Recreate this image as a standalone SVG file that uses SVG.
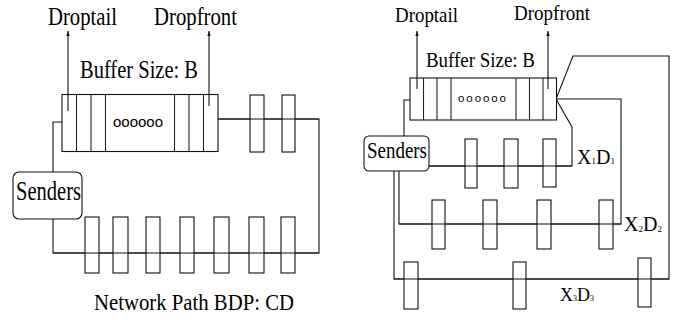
<svg xmlns="http://www.w3.org/2000/svg" width="686" height="320" viewBox="0 0 686 320">
  <style>
    .ln { fill: none; stroke: #111; stroke-width: 1.1; }
    .bx { fill: #fff; stroke: #111; stroke-width: 1.1; }
    .div { stroke: #222; stroke-width: 1.1; }
    .lbl { font-family: "Liberation Serif", "DejaVu Serif", "Times New Roman", serif; fill: #000; }
    .dots { font-family: "Liberation Sans", Arial, sans-serif; fill: #000; }
  </style>
  <defs>
    <marker id="tip" viewBox="0 0 6 6" refX="6" refY="3" markerWidth="5" markerHeight="5" markerUnits="userSpaceOnUse" orient="auto">
      <path d="M0 1 L6 3 L0 5 Z" fill="#111"/>
    </marker>
  </defs>

  <!-- ===== Left: single path ===== -->
  <g id="connectors-left">
    <polyline class="ln" points="62,122 53,122 53,172"/>
    <polyline class="ln" points="53,219 53,253 319,253 319,119 218,119"/>
    <line class="ln" x1="68" y1="111" x2="68" y2="31" marker-end="url(#tip)"/>
    <line class="ln" x1="209" y1="106" x2="209" y2="31" marker-end="url(#tip)"/>
  </g>

  <g id="buffer-left">
    <rect class="bx" x="62" y="94.5" width="156" height="57"/>
    <line class="div" x1="76.5" y1="94.5" x2="76.5" y2="151.5"/>
    <line class="div" x1="91" y1="94.5" x2="91" y2="151.5" stroke="#666"/>
    <line class="div" x1="105.5" y1="94.5" x2="105.5" y2="151.5"/>
    <line class="div" x1="174.5" y1="94.5" x2="174.5" y2="151.5"/>
    <line class="div" x1="189" y1="94.5" x2="189" y2="151.5" stroke="#666"/>
    <line class="div" x1="203.5" y1="94.5" x2="203.5" y2="151.5"/>
    <text class="dots" x="113" y="127" font-size="15" textLength="50" lengthAdjust="spacingAndGlyphs">oooooo</text>
    <line class="ln" x1="68" y1="111" x2="68" y2="95"/>
    <line class="ln" x1="209" y1="106" x2="209" y2="95"/>
  </g>

  <g id="link-left-top">
    <rect class="bx" x="250" y="95" width="14" height="57"/>
    <rect class="bx" x="282" y="95" width="13" height="57"/>
    <line class="ln" x1="218" y1="119" x2="319" y2="119"/>
  </g>

  <g id="senders-left">
    <rect class="bx" x="13" y="172" width="69" height="47" rx="6"/>
    <text class="lbl" font-family="Liberation Serif, serif" x="16" y="200" font-size="28" textLength="65" lengthAdjust="spacingAndGlyphs">Senders</text>
  </g>

  <g id="link-left-bottom">
    <rect class="bx" x="85" y="217" width="14" height="56"/>
    <rect class="bx" x="113" y="217" width="15" height="56"/>
    <rect class="bx" x="146" y="217" width="14" height="56"/>
    <rect class="bx" x="180" y="217" width="14" height="56"/>
    <rect class="bx" x="214" y="217" width="15" height="56"/>
    <rect class="bx" x="249" y="217" width="15" height="56"/>
    <rect class="bx" x="281" y="217" width="14" height="56"/>
    <line class="ln" x1="53" y1="253" x2="319" y2="253"/>
  </g>

  <g id="labels-left">
    <text class="lbl" x="48" y="25" font-size="26" textLength="69" lengthAdjust="spacingAndGlyphs">Droptail</text>
    <text class="lbl" x="154" y="25" font-size="26" textLength="83" lengthAdjust="spacingAndGlyphs">Dropfront</text>
    <text class="lbl" x="80" y="78" font-size="26" textLength="118" lengthAdjust="spacingAndGlyphs">Buffer Size: B</text>
    <text class="lbl" x="94" y="310" font-size="24" textLength="200" lengthAdjust="spacingAndGlyphs">Network Path BDP: CD</text>
  </g>

  <!-- ===== Right: three parallel paths ===== -->
  <g id="connectors-right">
    <polyline class="ln" points="410,100 404,100 404,136"/>
    <polyline class="ln" points="429,166 572,166 572,127 556,99"/>
    <polyline class="ln" points="399,171 399,224 621,224 621,99 556,99"/>
    <polyline class="ln" points="394,171 394,279 669,279 669,56 573,56 556,99"/>
    <line class="ln" x1="417" y1="89" x2="417" y2="31" marker-end="url(#tip)"/>
    <line class="ln" x1="548" y1="89" x2="548" y2="31" marker-end="url(#tip)"/>
  </g>

  <g id="buffer-right">
    <rect class="bx" x="410" y="78" width="146.5" height="42"/>
    <line class="div" x1="423.5" y1="78" x2="423.5" y2="120"/>
    <line class="div" x1="437" y1="78" x2="437" y2="120"/>
    <line class="div" x1="451" y1="78" x2="451" y2="120"/>
    <line class="div" x1="516" y1="78" x2="516" y2="120"/>
    <line class="div" x1="529.5" y1="78" x2="529.5" y2="120"/>
    <line class="div" x1="543" y1="78" x2="543" y2="120"/>
    <text class="dots" x="458" y="102" font-size="11.5" textLength="48" lengthAdjust="spacing">oooooo</text>
    <line class="ln" x1="417" y1="89" x2="417" y2="78"/>
    <line class="ln" x1="548" y1="89" x2="548" y2="78"/>
  </g>

  <g id="senders-right">
    <rect class="bx" x="364" y="136" width="65" height="35" rx="5"/>
    <text class="lbl" x="367" y="158" font-size="23" textLength="60" lengthAdjust="spacingAndGlyphs">Senders</text>
  </g>

  <g id="path-x1d1">
    <rect class="bx" x="465" y="139" width="12" height="49"/>
    <rect class="bx" x="504" y="139" width="14" height="49"/>
    <rect class="bx" x="543" y="139" width="13" height="48"/>
    <line class="ln" x1="429" y1="166" x2="572" y2="166"/>
    <text class="lbl" x="577" y="164" font-size="20">X<tspan font-size="9">1</tspan>D<tspan font-size="9">1</tspan></text>
  </g>

  <g id="path-x2d2">
    <rect class="bx" x="432" y="200" width="13" height="49"/>
    <rect class="bx" x="483" y="200" width="14" height="49"/>
    <rect class="bx" x="537" y="200" width="14" height="49"/>
    <rect class="bx" x="599" y="200" width="14" height="49"/>
    <line class="ln" x1="399" y1="224" x2="621" y2="224"/>
    <text class="lbl" x="624" y="231" font-size="20">X<tspan font-size="9" dy="1">2</tspan><tspan dy="-1">D</tspan><tspan font-size="9" dy="1">2</tspan></text>
  </g>

  <g id="path-x3d3">
    <rect class="bx" x="404" y="262" width="14" height="47"/>
    <rect class="bx" x="513" y="262" width="13" height="47"/>
    <rect class="bx" x="638" y="258" width="13" height="49"/>
    <line class="ln" x1="394" y1="279" x2="669" y2="279"/>
    <text class="lbl" x="560" y="301" font-size="18">X<tspan font-size="8">3</tspan>D<tspan font-size="8">3</tspan></text>
  </g>

  <g id="labels-right">
    <text class="lbl" x="395" y="22" font-size="21" textLength="63" lengthAdjust="spacingAndGlyphs">Droptail</text>
    <text class="lbl" x="514" y="19.5" font-size="21" textLength="76" lengthAdjust="spacingAndGlyphs">Dropfront</text>
    <text class="lbl" x="426" y="67" font-size="21" textLength="109" lengthAdjust="spacingAndGlyphs">Buffer Size: B</text>
  </g>
</svg>
